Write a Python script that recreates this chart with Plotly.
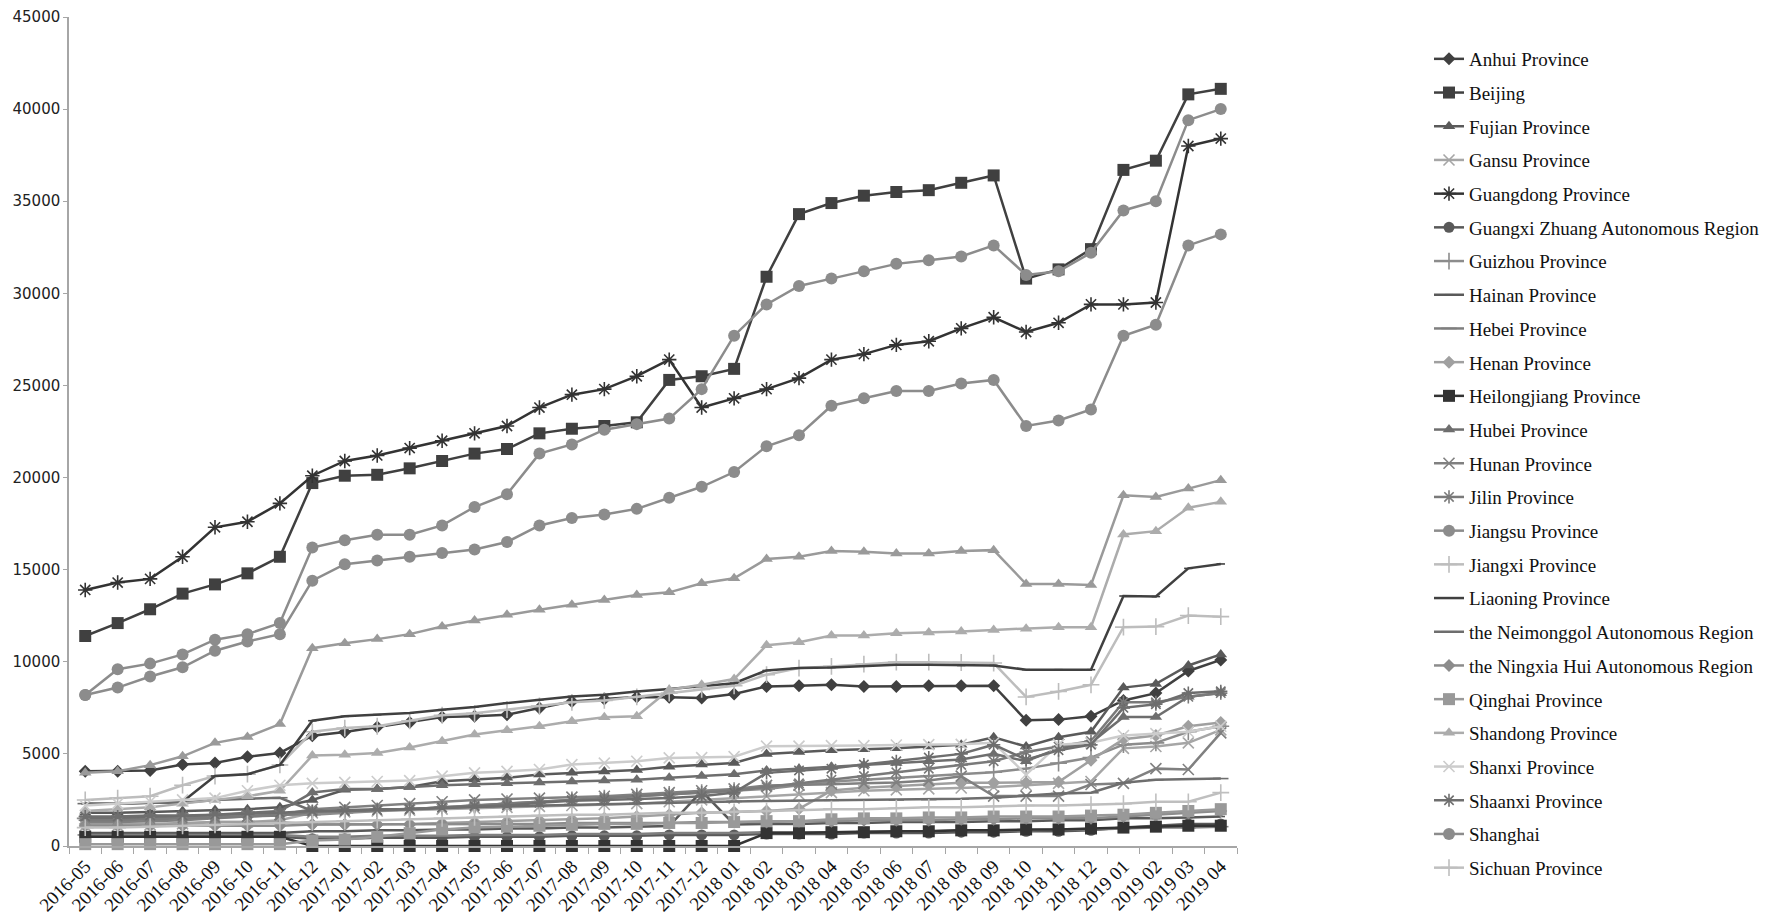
import plotly.graph_objects as go

months = ["2016-05", "2016-06", "2016-07", "2016-08", "2016-09", "2016-10", "2016-11", "2016-12",
          "2017-01", "2017-02", "2017-03", "2017-04", "2017-05", "2017-06", "2017-07", "2017-08",
          "2017-09", "2017-10", "2017-11", "2017-12", "2018 01", "2018 02", "2018 03", "2018 04",
          "2018 05", "2018 06", "2018 07", "2018 08", "2018 09", "2018 10", "2018 11", "2018 12",
          "2019 01", "2019 02", "2019 03", "2019 04"]

anhui = [4060, 4060, 4100, 4420, 4510, 4840, 5050, 5990, 6190, 6460, 6710, 7000, 7040, 7130, 7490, 7850, 7980, 8090,
         8070, 8030, 8250, 8660, 8700, 8750, 8660, 8660, 8700, 8700, 8700, 6820, 6860, 7040, 7900, 8300, 9500, 10100]
beijing = [11400, 12100, 12850, 13700, 14200, 14800, 15700, 19700, 20100, 20150, 20500, 20900, 21300, 21550, 22400,
           22650, 22800, 23000, 25300, 25500, 25900, 30900, 34300, 34900, 35300, 35500, 35600, 36000, 36400, 30800,
           31300, 32400, 36700, 37200, 40800, 41100]
fujian = [1800, 1800, 1850, 1900, 1950, 2000, 2100, 2500, 3050, 3100, 3200, 3520, 3610, 3700, 3880, 3970, 4050, 4120,
          4300, 4420, 4510, 5000, 5100, 5200, 5250, 5300, 5400, 5500, 5900, 5400, 5900, 6200, 8600, 8800, 9800, 10400]
gansu = [1100, 1100, 1150, 1200, 1300, 1300, 1400, 1800, 1850, 1900, 1950, 2000, 2050, 2100, 2150, 2200, 2250, 2300,
         2400, 2500, 2600, 2700, 2800, 2900, 3000, 3050, 3100, 3150, 3200, 3300, 3400, 3500, 5300, 5400, 5600, 6300]
guangdong = [13900, 14300, 14500, 15700, 17300, 17600, 18600, 20100, 20900, 21200, 21600, 22000, 22400, 22800, 23800,
             24500, 24800, 25500, 26400, 23800, 24300, 24800, 25400, 26400, 26700, 27200, 27400, 28100, 28700, 27900,
             28400, 29400, 29400, 29500, 38000, 38400]
guangxi = [500, 500, 500, 500, 500, 500, 500, 400, 400, 450, 450, 450, 500, 500, 500, 550, 550, 550,
           600, 600, 600, 650, 650, 650, 700, 700, 700, 750, 750, 800, 800, 850, 1000, 1100, 1200, 1200]
guizhou = [1500, 1500, 1550, 1550, 1600, 1650, 1700, 1700, 1800, 1900, 2000, 2100, 2200, 2300, 2400, 2500, 2600, 2700,
           2800, 2900, 3000, 3100, 3300, 3500, 3600, 3700, 3800, 3900, 4000, 4200, 4500, 4800, 5500, 5600, 6200, 6500]
hainan = [700, 700, 700, 700, 700, 700, 700, 800, 800, 850, 850, 900, 900, 950, 950, 1000, 1000, 1050,
          1080, 2980, 1170, 1200, 1200, 1250, 1250, 1300, 1300, 1300, 1350, 1350, 1400, 1400, 1500, 1500, 1550, 1600]
hebei = [600, 600, 600, 600, 600, 600, 600, 500, 500, 550, 550, 550, 600, 600, 600, 650, 650, 650,
         700, 700, 700, 750, 750, 750, 800, 800, 800, 850, 850, 850, 900, 900, 950, 1000, 1000, 1050]
henan = [1200, 1200, 1200, 1250, 1300, 1300, 1300, 1170, 1170, 1170, 1200, 1250, 1300, 1350, 1400, 1450, 1500, 1600,
         1700, 1800, 1850, 1900, 2020, 3010, 3160, 3250, 3340, 3430, 3430, 3430, 3470, 4660, 5800, 6000, 6500, 6700]
heilongjiang = [500, 500, 500, 500, 500, 500, 500, 0, 0, 0, 0, 0, 0, 0, 0, 0, 0, 0,
                0, 0, 0, 700, 700, 750, 750, 800, 800, 850, 850, 900, 900, 950, 1000, 1050, 1100, 1100]
hubei = [1500, 1500, 1550, 1600, 1700, 1800, 1900, 2900, 3100, 3100, 3200, 3300, 3350, 3400, 3450, 3500, 3550, 3600,
         3700, 3800, 3900, 4100, 4200, 4300, 4400, 4500, 4600, 4700, 5000, 4600, 5300, 5600, 7000, 7000, 8100, 8300]
hunan = [1300, 1300, 1350, 1400, 1500, 1600, 1700, 2000, 2100, 2200, 2300, 2400, 2500, 2550, 2600, 2650, 2700, 2800,
         2900, 3000, 3100, 3290, 3300, 3350, 3400, 3450, 3550, 3790, 2710, 2710, 2710, 3340, 3400, 4200, 4150, 6140]
jilin = [1400, 1400, 1450, 1500, 1550, 1600, 1650, 1850, 1900, 1950, 2000, 2100, 2200, 2300, 2400, 2500, 2600, 2700,
         2800, 2900, 3000, 3200, 3400, 3600, 3800, 4000, 4200, 4400, 4600, 5100, 5400, 5700, 7800, 7800, 8100, 8300]
jiangsu = [8200, 8600, 9200, 9700, 10600, 11100, 11500, 14400, 15300, 15500, 15700, 15900, 16100, 16500, 17400, 17800,
           18000, 18300, 18900, 19500, 20300, 21700, 22300, 23900, 24300, 24700, 24700, 25100, 25300, 22800, 23100,
           23700, 27700, 28300, 32600, 33200]
jiangxi = [2500, 2600, 2700, 3300, 3800, 3900, 4400, 6200, 6400, 6500, 6800, 7100, 7200, 7400, 7600, 7800, 7900, 8100,
           8300, 8500, 8700, 9300, 9660, 9750, 9870, 9980, 9980, 9960, 9930, 8090, 8390, 8750, 11880, 11910, 12510, 12450]
liaoning = [2300, 2300, 2350, 2400, 3800, 3900, 4400, 6800, 7040, 7130, 7220, 7400, 7550, 7760, 7940, 8120, 8210, 8390,
            8520, 8700, 8840, 9530, 9660, 9690, 9780, 9840, 9840, 9800, 9800, 9570, 9570, 9570, 13570, 13540, 15070, 15310]
neimonggol = [2300, 2300, 2350, 2350, 2500, 2550, 2620, 1900, 1950, 1990, 2000, 2080, 2120, 2160, 2200, 2250, 2280, 2320,
              2350, 2380, 2420, 2440, 2460, 2480, 2490, 2500, 2520, 2560, 2620, 2750, 2850, 2890, 3430, 3600, 3650, 3660]
ningxia = [1100, 1100, 1100, 1100, 1100, 1100, 1100, 1170, 1170, 1170, 1170, 1200, 1200, 1200, 1200, 1250, 1250, 1250,
           1250, 1300, 1300, 1300, 1350, 1350, 1400, 1400, 1400, 1450, 1450, 1500, 1500, 1500, 1600, 1700, 1800, 1900]
qinghai = [100, 100, 100, 100, 100, 100, 100, 300, 350, 500, 700, 900, 1000, 1050, 1100, 1150, 1200, 1200,
           1250, 1250, 1300, 1350, 1350, 1450, 1500, 1500, 1550, 1550, 1600, 1600, 1600, 1650, 1700, 1800, 1900, 2000]
shandong = [1900, 2000, 2100, 2300, 2500, 2700, 3000, 4910, 4950, 5050, 5350, 5690, 6050, 6280, 6500, 6770, 6990, 7040,
            8480, 8750, 9060, 10900, 11060, 11430, 11430, 11550, 11590, 11640, 11730, 11790, 11880, 11880, 16910, 17090,
            18360, 18680]
shanxi = [2200, 2300, 2400, 2500, 2600, 3000, 3300, 3400, 3450, 3500, 3550, 3790, 3970, 4050, 4150, 4420, 4500, 4600,
          4780, 4800, 4850, 5420, 5420, 5450, 5450, 5480, 5500, 5520, 5600, 3880, 5500, 5600, 6000, 6100, 6200, 6500]
shaanxi = [1600, 1600, 1650, 1650, 1700, 1750, 1800, 1900, 1900, 1950, 2000, 2080, 2150, 2200, 2350, 2450, 2500, 2530,
           2600, 2700, 2900, 3970, 4100, 4200, 4420, 4600, 4800, 5000, 5500, 4690, 5200, 5500, 7500, 7700, 8300, 8400]
shanghai = [8200, 9600, 9900, 10400, 11200, 11500, 12100, 16200, 16600, 16900, 16900, 17400, 18400, 19100, 21300, 21800,
            22600, 22900, 23200, 24800, 27700, 29400, 30400, 30800, 31200, 31600, 31800, 32000, 32600, 31000, 31200,
            32200, 34500, 35000, 39400, 40000]
sichuan = [1000, 1000, 1050, 1100, 1150, 1200, 1250, 1300, 1350, 1400, 1450, 1500, 1550, 1600, 1650, 1700, 1700, 1750,
           1800, 1800, 1850, 1900, 1950, 2000, 2000, 2050, 2100, 2100, 2150, 2200, 2200, 2250, 2300, 2400, 2400, 2900]
# series drawn in the figure but cut off from the (truncated) legend
unlisted = [3970, 4060, 4390, 4870, 5600, 5920, 6620, 10740, 11010, 11230, 11500, 11910, 12240, 12550, 12820, 13090,
            13360, 13630, 13770, 14260, 14530, 15580, 15700, 16010, 15970, 15880, 15880, 16010, 16060, 14220, 14220,
            14170, 19040, 18950, 19400, 19860]

# (name, values, colour, marker symbol, marker size)
series = [
    ("Anhui Province", anhui, "#404040", "diamond", 10),
    ("Beijing", beijing, "#404040", "square", 12),
    ("Fujian Province", fujian, "#5a5a5a", "triangle-up", 11),
    ("Gansu Province", gansu, "#a6a6a6", "x-thin-open", 11),
    ("Guangdong Province", guangdong, "#333333", "asterisk-open", 12),
    ("Guangxi Zhuang Autonomous Region", guangxi, "#595959", "circle", 11),
    ("Guizhou Province", guizhou, "#8c8c8c", "cross-thin-open", 12),
    ("Hainan Province", hainan, "#595959", "line-ew-open", 6),
    ("Hebei Province", hebei, "#7f7f7f", "line-ew-open", 11),
    ("Henan Province", henan, "#a0a0a0", "diamond", 10),
    ("Heilongjiang Province", heilongjiang, "#333333", "square", 12),
    ("Hubei Province", hubei, "#6e6e6e", "triangle-up", 11),
    ("Hunan Province", hunan, "#808080", "x-thin-open", 11),
    ("Jilin Province", jilin, "#7a7a7a", "asterisk-open", 11),
    ("Jiangsu Province", jiangsu, "#8c8c8c", "circle", 12),
    ("Jiangxi Province", jiangxi, "#bdbdbd", "cross-thin-open", 12),
    ("Liaoning Province", liaoning, "#404040", "line-ew-open", 6),
    ("the Neimonggol Autonomous Region", neimonggol, "#6e6e6e", "line-ew-open", 11),
    ("the Ningxia Hui Autonomous Region", ningxia, "#8c8c8c", "diamond", 10),
    ("Qinghai Province", qinghai, "#999999", "square", 12),
    ("Shandong Province", shandong, "#acacac", "triangle-up", 11),
    ("Shanxi Province", shanxi, "#cccccc", "x-thin-open", 11),
    ("Shaanxi Province", shaanxi, "#6e6e6e", "asterisk-open", 11),
    ("Shanghai", shanghai, "#8c8c8c", "circle", 12),
    ("Sichuan Province", sichuan, "#bfbfbf", "cross-thin-open", 12),
]

fig = go.Figure()
for name, vals, col, sym, size in series:
    open_sym = sym.endswith("open")
    fig.add_trace(go.Scatter(
        x=months, y=vals, name=name, legendgroup=name, mode="lines+markers",
        line=dict(color=col, width=2.5),
        marker=dict(symbol=sym, size=size, color=col,
                    line=dict(color=col, width=1.6 if open_sym else 0)),
        cliponaxis=False,
    ))

fig.add_trace(go.Scatter(
    x=months, y=unlisted, name="Zhejiang Province", showlegend=False, mode="lines+markers",
    line=dict(color="#9a9a9a", width=2.5),
    marker=dict(symbol="triangle-up", size=11, color="#9a9a9a", line=dict(width=0)),
    cliponaxis=False,
))

axis_col = "#a6a6a6"
L, R, T, B = 61, 1229, 9, 838
fig.update_layout(
    width=1772, height=919,
    margin=dict(l=L, r=1772 - R, t=T, b=919 - B),
    paper_bgcolor="white", plot_bgcolor="white",
    showlegend=True,
    legend=dict(
        xref="container", yref="container",
        x=1421 / 1772, y=1 - 32 / 919, xanchor="left", yanchor="top",
        maxheight=915,
        font=dict(family="Liberation Serif", size=19, color="#111111"),
        tracegroupgap=6, bgcolor="rgba(0,0,0,0)", itemclick=False,
    ),
    xaxis=dict(
        type="category", categoryorder="array", categoryarray=months,
        range=[-0.5, len(months) - 0.5], automargin=False,
        showline=True, linecolor=axis_col, linewidth=1.5,
        ticks="outside", tickson="boundaries", ticklen=6, tickcolor=axis_col,
        tickangle=-45, tickfont=dict(family="Liberation Serif", size=19, color="#111111"),
        showgrid=False, zeroline=False,
    ),
    yaxis=dict(
        range=[0, 45000], dtick=5000, tick0=0, tickformat="d", automargin=False,
        ticklabeloverflow="allow",
        showline=True, linecolor=axis_col, linewidth=1.5,
        ticks="outside", ticklen=4, tickcolor=axis_col,
        tickfont=dict(family="DejaVu Sans", size=15, color="#222222"),
        showgrid=False, zeroline=False,
    ),
)

fig.write_html("out.html")
